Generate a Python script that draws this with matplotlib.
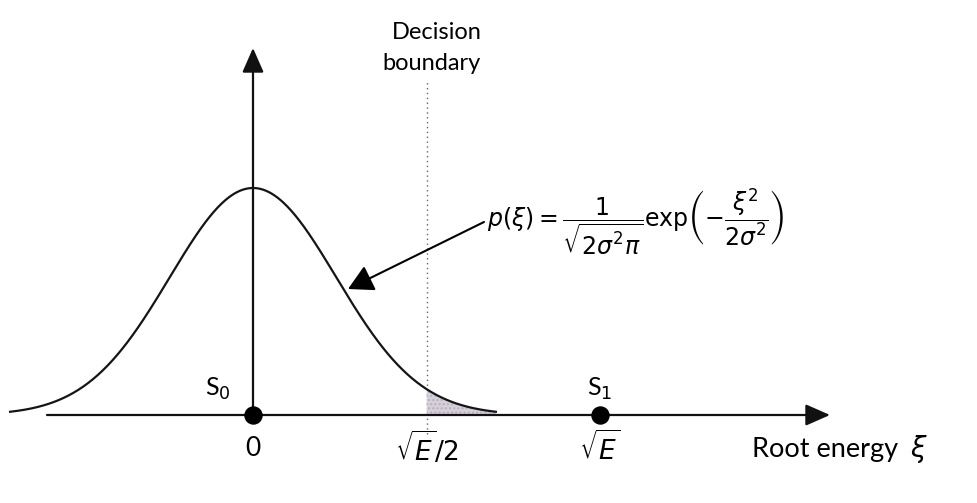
import numpy as np
import matplotlib.pyplot as plt

plt.rcParams['font.family'] = ['Lato', 'DejaVu Sans']
plt.rcParams['mathtext.fontset'] = 'dejavusans'

# positions on the root-energy axis, in units of sqrt(E)
signal_names = [r'S$_0$', r'S$_1$']
signal_pos = [0.0, 1.0]
tick_labels = ['0', r'$\sqrt{E}/2$', r'$\sqrt{E}$']
tick_pos = [0.0, 0.5, 1.0]
threshold = 0.5          # decision boundary at sqrt(E)/2
sigma = 0.24             # noise standard deviation
curve_span = 0.70        # density drawn over -span..span

xi = np.linspace(-curve_span, curve_span, 500)
pdf = np.exp(-xi**2 / (2 * sigma**2)) / np.sqrt(2 * sigma**2 * np.pi)

# pixel layout helpers: x -> 347 px per unit, origin at column 253
W, H = 977, 503
x0_px, unit_px = 253, 347
y0_px, peak_px = 415, 227
k = pdf.max() / peak_px


def X(px):
    return (px - x0_px) / unit_px


def Y(py):
    return (y0_px - py) * k


fig = plt.figure(figsize=(W / 100, H / 100), dpi=100)
ax = fig.add_axes([0, 0, 1, 1])
ax.set_xlim(X(0), X(W))
ax.set_ylim(Y(H), Y(0))
ax.axis('off')

arrow = dict(arrowstyle='-|>,head_length=0.5,head_width=0.22',
             color='#111111', lw=1.6, mutation_scale=30, shrinkA=0, shrinkB=0)
# horizontal and vertical axes
ax.annotate('', xy=(X(830), 0), xytext=(X(47), 0), arrowprops=arrow)
ax.annotate('', xy=(0, Y(48)), xytext=(0, 0), arrowprops=arrow)

# noise density and the tail beyond the threshold
ax.plot(xi, pdf, color='#151515', lw=1.6, zorder=3)
tail = xi >= threshold
ax.fill_between(xi[tail], 0, pdf[tail], facecolor='#d6d0da',
                edgecolor='#b8b0bc', hatch='....', lw=0, zorder=2)

# decision boundary
ax.plot([threshold, threshold], [Y(434), Y(80)], color='#666666',
        lw=1.0, ls=(0, (1, 2.5)), zorder=1)
ax.text(X(437), Y(32), 'Decision', ha='center', va='center', fontsize=17)
ax.text(X(431), Y(64), 'boundary', ha='center', va='center', fontsize=17)

# signal points
ax.scatter(signal_pos, np.zeros(len(signal_pos)), s=150, color='black', zorder=5)
name_dx = [-0.10, 0.0]
for name, p, dx in zip(signal_names, signal_pos, name_dx):
    ax.text(p + dx, Y(389), name, ha='center', va='center', fontsize=18)

for lab, p in zip(tick_labels, tick_pos):
    ax.text(p, Y(448), lab, ha='center', va='center', fontsize=19)

ax.text(X(752), Y(450), 'Root energy', ha='left', va='center', fontsize=19.5)
ax.text(X(919), Y(449), r'$\xi$', ha='center', va='center', fontsize=20,
        family='DejaVu Serif')

# formula with pointer to the curve
ax.text(X(487), Y(222),
        r'$p(\xi) = \dfrac{1}{\sqrt{2\sigma^2\pi}}\exp\!\left(-\dfrac{\xi^2}{2\sigma^2}\right)$',
        ha='left', va='center', fontsize=17)
ax.annotate('', xy=(X(348), Y(289)), xytext=(X(484), Y(222)),
            arrowprops=dict(arrowstyle='-|>,head_length=0.55,head_width=0.3',
                            color='black', lw=1.5, mutation_scale=28,
                            shrinkA=0, shrinkB=0))

fig.savefig('out.png', dpi=100)
